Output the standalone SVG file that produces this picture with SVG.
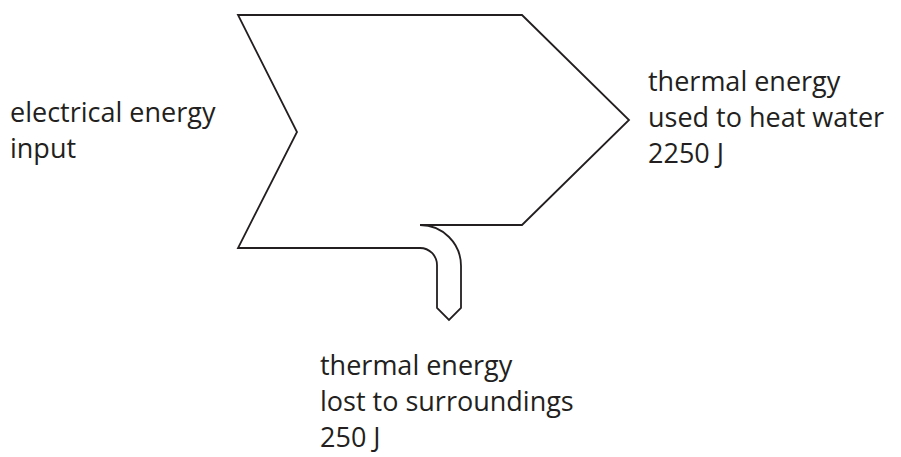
<svg xmlns="http://www.w3.org/2000/svg" width="901" height="457" viewBox="0 0 901 457">
<style>
.t{font-family:"Open Sans","Liberation Sans",sans-serif;font-size:27px;fill:#231f20}
.s{fill:none;stroke:#231f20;stroke-width:1.8;stroke-linejoin:miter}
</style>
<rect width="901" height="457" fill="#fff"/>
<g id="connectors">
<path class="s" d="M238,15 L522,15 L629,120 L522,225 L420,225 A41,41 0 0 1 461,266 L461,308 L449,320 L437,308 L437,265 A17,17 0 0 0 420,248 L238,248 L297,132 Z"/>
</g>
<g id="input">
<text class="t" x="10" y="122">electrical energy</text>
<text class="t" x="10" y="158">input</text>
</g>
<g id="useful">
<text class="t" x="648" y="91">thermal energy</text>
<text class="t" x="648" y="127">used to heat water</text>
<text class="t" x="648" y="163">2250 J</text>
</g>
<g id="wasted">
<text class="t" x="320" y="375">thermal energy</text>
<text class="t" x="320" y="411">lost to surroundings</text>
<text class="t" x="320" y="447">250 J</text>
</g>
</svg>
